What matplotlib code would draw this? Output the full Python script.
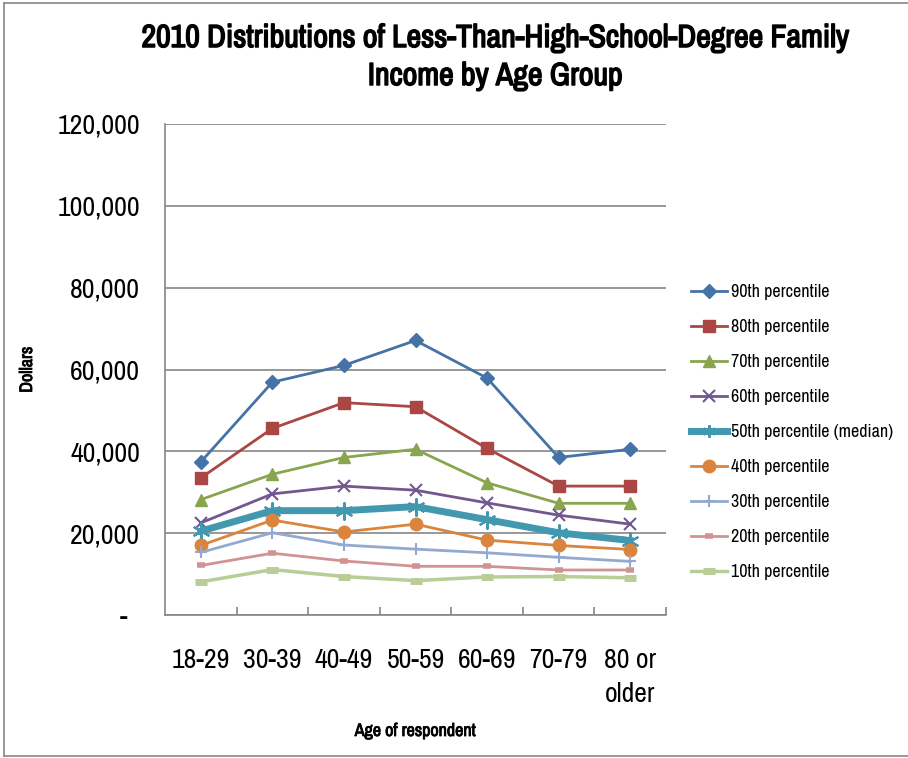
import matplotlib.pyplot as plt
import matplotlib.patheffects as pe
from matplotlib.lines import Line2D
from matplotlib.ticker import FixedLocator, FuncFormatter

age_groups = ["18-29", "30-39", "40-49", "50-59", "60-69", "70-79", "80 or\nolder"]

p90 = [37400, 56900, 61000, 67100, 57900, 38500, 40500]
p80 = [33500, 45600, 51900, 50900, 40700, 31500, 31500]
p70 = [28200, 34400, 38500, 40500, 32300, 27300, 27300]
p60 = [22500, 29600, 31500, 30500, 27400, 24400, 22200]
p50 = [20500, 25500, 25500, 26500, 23300, 20100, 18200]
p40 = [17000, 23200, 20300, 22200, 18300, 17000, 16000]
p30 = [15300, 20100, 17100, 16100, 15200, 14100, 13100]
p20 = [12100, 15100, 13200, 11900, 11900, 11000, 11000]
p10 = [8100, 11100, 9400, 8400, 9300, 9400, 9100]

series_names = [
    "90th percentile",
    "80th percentile",
    "70th percentile",
    "60th percentile",
    "50th percentile (median)",
    "40th percentile",
    "30th percentile",
    "20th percentile",
    "10th percentile",
]
y_ticks = [0, 20000, 40000, 60000, 80000, 100000, 120000]

FONT = ["Archivo Narrow", "DejaVu Sans"]
GRID = "#868686"
BOLD = [pe.withStroke(linewidth=1.1, foreground="black")]
SEMIBOLD = [pe.withStroke(linewidth=0.6, foreground="black")]

styles = [
    dict(color="#4572A7", marker="D", ms=7, lw=2.0),
    dict(color="#AA4643", marker="s", ms=9, lw=2.0),
    dict(color="#89A54E", marker="^", ms=9, lw=2.0),
    dict(color="#71588F", marker="x", ms=9, lw=2.0, mew=1.5),
    dict(color="#4198AF", marker=(6, 2, 0), ms=13, lw=5.0, mew=1.5),
    dict(color="#DB843D", marker="o", ms=9, lw=2.0),
    dict(color="#93A9CF", marker="+", ms=9, lw=2.0, mew=1.5),
    dict(color="#D19392", marker="_", ms=6, lw=2.0, mew=4),
    dict(color="#B9CD96", marker="_", ms=8, lw=2.5, mew=5),
]

fig = plt.figure(figsize=(9.08, 7.58), dpi=100)
ax = fig.add_axes([165 / 908, 1 - 615 / 758, 501 / 908, 491 / 758])

x = list(range(len(age_groups)))
data = [p90, p80, p70, p60, p50, p40, p30, p20, p10]
handles = []
for name, vals, st in zip(series_names, data, styles):
    (ln,) = ax.plot(x, vals, label=name, clip_on=False, **st)
    handles.append(ln)

ax.set_xlim(-0.5, len(age_groups) - 0.5)
ax.set_ylim(0, 120000)
ax.yaxis.set_major_locator(FixedLocator(y_ticks))
ax.yaxis.set_major_formatter(FuncFormatter(lambda v, _: "-  " if v == 0 else f"{int(v):,}"))
ax.grid(axis="y", color=GRID, lw=1.2)
ax.set_axisbelow(True)

ax.set_xticks(x)
ax.set_xticklabels(age_groups, family=FONT, fontsize=20, linespacing=1.45, va="top")
ax.xaxis.set_minor_locator(FixedLocator([i + 0.5 for i in x]))
ax.tick_params(axis="x", which="major", length=0, pad=24)
ax.tick_params(axis="x", which="minor", direction="in", length=6, color=GRID, width=1.2)
ax.tick_params(axis="y", length=0, pad=18)
for lbl in ax.get_yticklabels():
    lbl.set_fontfamily(FONT)
    lbl.set_fontsize(20)

for side in ("top", "right"):
    ax.spines[side].set_visible(False)
for side in ("left", "bottom"):
    ax.spines[side].set_color(GRID)
    ax.spines[side].set_linewidth(1.2)

ax.set_ylabel("Dollars", family=FONT, fontsize=13, path_effects=SEMIBOLD)
ax.yaxis.set_label_coords((35 - 165) / 501, 0.5)
ax.set_xlabel("Age of respondent", family=FONT, fontsize=13, path_effects=SEMIBOLD)
ax.xaxis.set_label_coords(0.5, (615 - 731) / 491)
ax.xaxis.label.set_va("center")

fig.text(495 / 908, 1 - 38 / 758, "2010 Distributions of Less-Than-High-School-Degree Family",
         family=FONT, fontsize=23, ha="center", va="center", path_effects=BOLD)
fig.text(495 / 908, 1 - 76 / 758, "Income by Age Group",
         family=FONT, fontsize=23, ha="center", va="center", path_effects=BOLD)

leg = fig.legend(handles=handles, loc="upper left", bbox_to_anchor=(684 / 908, 1 - 277 / 758),
                 frameon=False, prop={"family": FONT, "size": 13}, labelspacing=1.05,
                 handlelength=2.0, handletextpad=0.2, borderaxespad=0)
for h in leg.legend_handles:
    h.set_markersize(min(h.get_markersize(), 9))

# chart frame
fig.add_artist(Line2D([4 / 908, 4 / 908], [0.002, 1 - 3 / 758], transform=fig.transFigure, color=GRID, lw=1.2))
fig.add_artist(Line2D([4 / 908, 1], [1 - 3 / 758, 1 - 3 / 758], transform=fig.transFigure, color=GRID, lw=1.2))
fig.add_artist(Line2D([4 / 908, 1], [0.002, 0.002], transform=fig.transFigure, color=GRID, lw=1.2))

fig.savefig("out.png", dpi=100)
